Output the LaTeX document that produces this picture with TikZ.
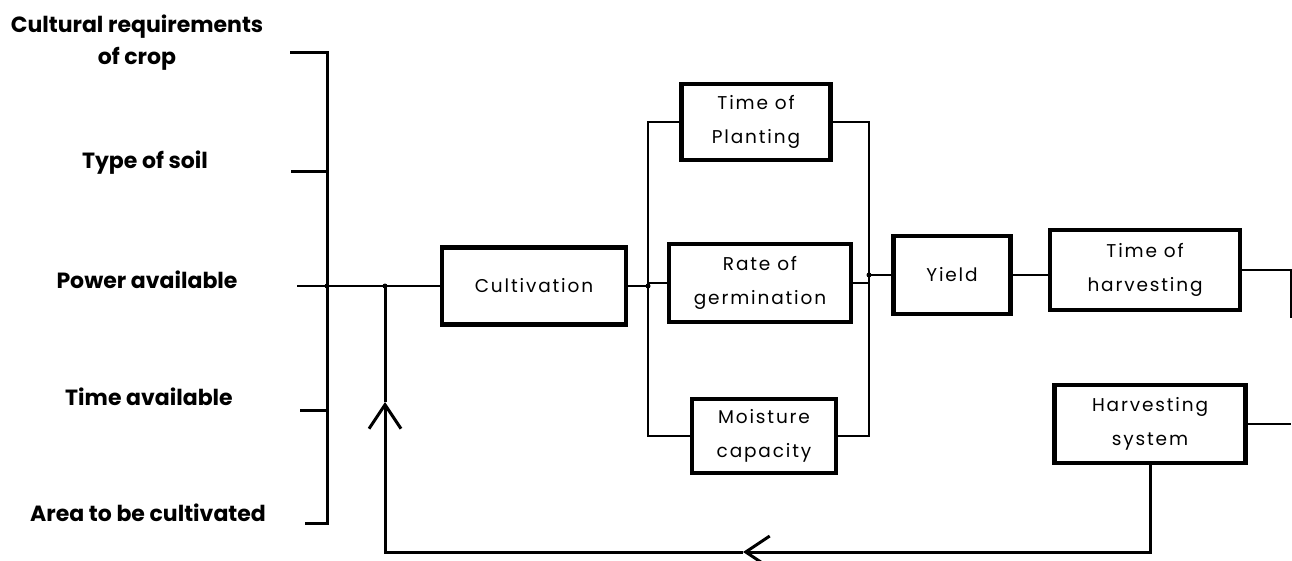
\documentclass[tikz,border=0pt]{standalone}
\usepackage{fontspec}
\setmainfont{Poppins}
\newfontfamily\boxfont{Poppins}[LetterSpace=10]
\usetikzlibrary{arrows.meta}
\tikzset{
  lab/.style={font=\fontsize{22}{32}\selectfont\bfseries, align=center, inner sep=0pt},
  blk/.style={draw, line width=4.5pt, align=center, inner sep=0pt, font=\fontsize{18.5}{34}\selectfont\boxfont},
  con/.style={line width=2.2pt},
  brk/.style={line width=3pt},
  fb/.style={line width=3pt},
  tipv/.style={-{Straight Barb[length=24pt,width=32pt]}},
  jdot/.style={circle, fill, inner sep=0pt, minimum size=5pt}
}
\begin{document}
\begin{tikzpicture}[x=1pt,y=-1pt]
\useasboundingbox (0,0) rectangle (1292,561);
% left labels
\node[lab] (l1) at (137,43) {Cultural requirements\\of crop};
\node[lab] (l2) at (145,163) {Type of soil};
\node[lab] (l3) at (147,280) {Power available};
\node[lab] (l4) at (149,397) {Time available};
\node[lab] (l5) at (148,513) {Area to be cultivated};
% boxes
\node[blk, minimum width=184pt, minimum height=77pt] (cult) at (534,286) {Cultivation};
\node[blk, minimum width=149pt, minimum height=76pt] (top) at (756,122) {Time of\\Planting};
\node[blk, minimum width=182pt, minimum height=78pt] (rate) at (760,283) {Rate of\\germination};
\node[blk, minimum width=144pt, minimum height=74pt] (moist) at (764,436) {Moisture\\capacity};
\node[blk, minimum width=117pt, minimum height=78pt] (yield) at (952,275) {Yield};
\node[blk, minimum width=190pt, minimum height=80pt] (toh) at (1145,270) {Time of\\harvesting};
\node[blk, minimum width=191pt, minimum height=78pt] (hs) at (1150,424) {Harvesting\\system};
% bracket
\coordinate (b1) at (290,53);  \coordinate (b1r) at (327,53);
\coordinate (b2) at (291,172); \coordinate (b2r) at (327,172);
\coordinate (b4) at (300,410); \coordinate (b4r) at (327,410);
\coordinate (b5) at (305,523); \coordinate (b5r) at (327,523);
\draw[brk] (b1) -- (b1r) -- (b5r) -- (b5);
\draw[brk] (b2) -- (b2r);
\draw[brk] (b4) -- (b4r);
% main line
\coordinate (pin) at (297,286);
\coordinate (j1) at (327,286);
\coordinate (j2) at (385,286);
\draw[con] (pin) -- (cult.west);
\node[jdot] (d1) at (j1) {};
\node[jdot] (d2) at (j2) {};
% buses
\coordinate (lb) at (648,0);
\coordinate (rb) at (869,0);
\draw[con] (top.west) -- (top.west -| lb) -- (moist.west -| lb) -- (moist.west);
\draw[con] (cult.east) -- (cult.east -| lb);
\draw[con] (rate.west -| lb) -- (rate.west);
\node[jdot] (d3) at (cult.east -| lb) {};
\draw[con] (top.east) -- (top.east -| rb) -- (moist.east -| rb) -- (moist.east);
\draw[con] (rate.east) -- (rate.east -| rb);
\draw[con] (yield.west -| rb) -- (yield.west);
\node[jdot] (d4) at (yield.west -| rb) {};
\draw[con] (yield.east) -- (yield.east -| toh.west);
% right edge
\coordinate (re1) at (1291,0);
\coordinate (re2) at (1291,318);
\draw[con] (toh.east) -- (toh.east -| re1) -- (re2);
\draw[con] (hs.east) -- (hs.east -| re1);
% feedback
\coordinate (fbc) at (385,552);
\coordinate (ah) at (743,552);
\coordinate (av) at (385,402);
\draw[fb, tipv] (hs.south) -- (hs.south |- fbc) -- (ah);
\draw[fb, tipv] (ah) -- (fbc) -- (av);
\draw[fb] (av) -- (j2);
\end{tikzpicture}
\end{document}
